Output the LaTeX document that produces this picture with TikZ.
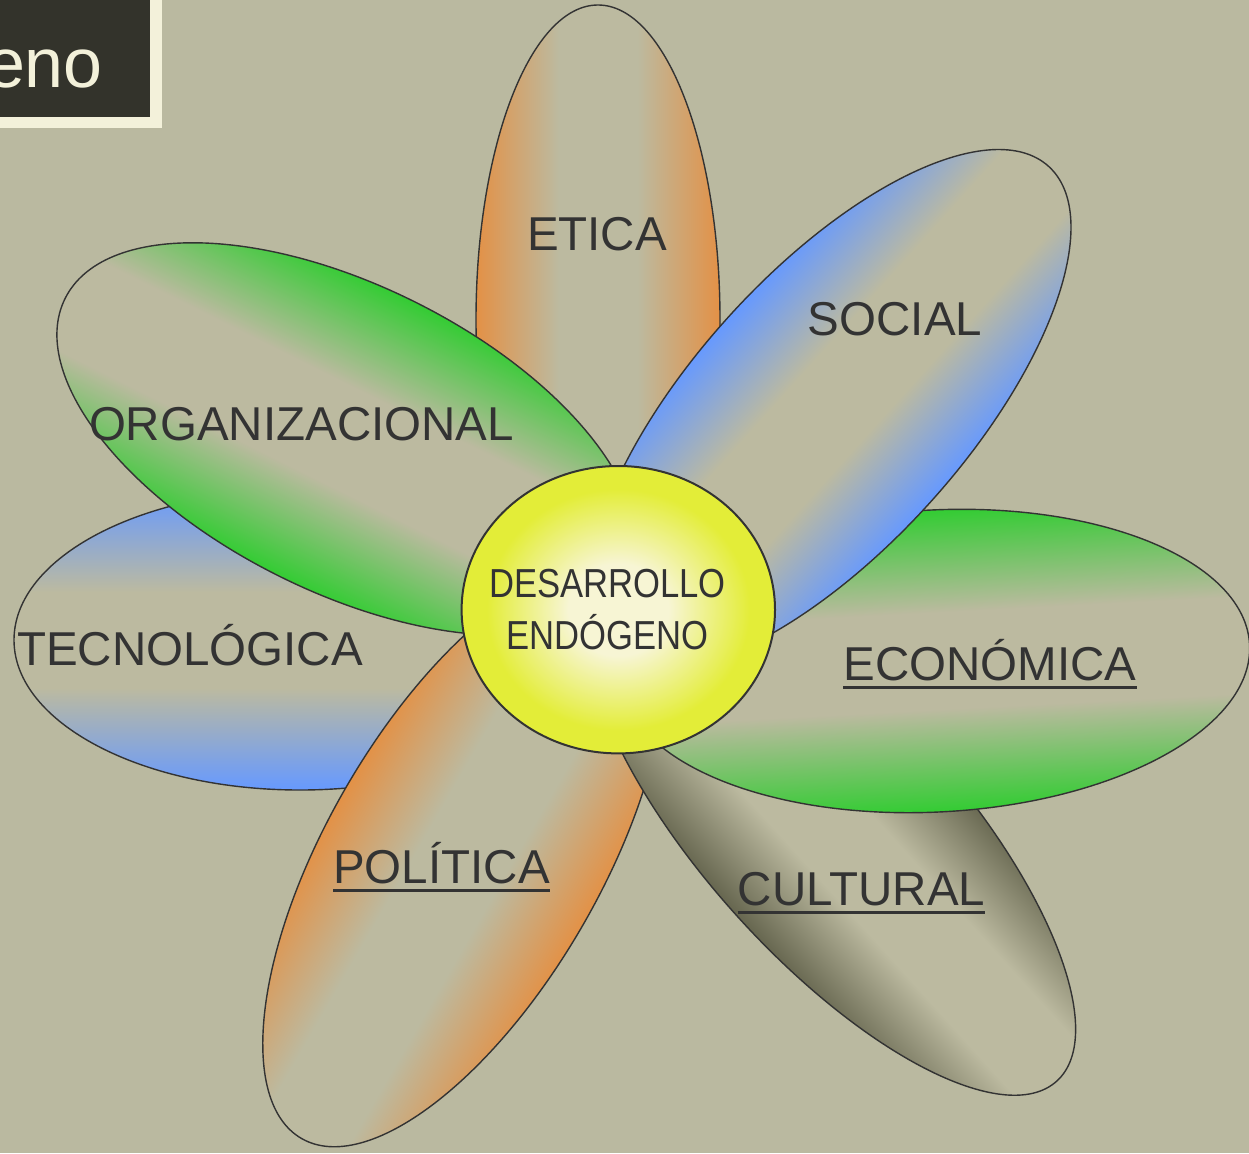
\documentclass[tikz,border=0pt]{standalone}
\usepackage{fontspec}
\setmainfont{Liberation Sans}
\definecolor{bg}{HTML}{BAB9A0}
\definecolor{mid}{HTML}{BCBAA0}
\definecolor{cOrange}{HTML}{E39146}
\definecolor{cBlue}{HTML}{6699FF}
\definecolor{cGreen}{HTML}{33CC33}
\definecolor{cDark}{HTML}{66664F}
\definecolor{ink}{HTML}{333333}
\definecolor{sunc}{HTML}{F7F5D4}
\definecolor{suny}{HTML}{E3ED38}
\definecolor{boxdark}{HTML}{33332B}
\definecolor{boxcream}{HTML}{F3F1DA}
\colorlet{petalc}{cOrange}
\pgfdeclareverticalshading[petalc]{petal}{100bp}{color(0bp)=(petalc); color(25bp)=(petalc); color(42bp)=(mid); color(58bp)=(mid); color(75bp)=(petalc); color(100bp)=(petalc)}
\pgfdeclareradialshading{sun}{\pgfpoint{0bp}{0bp}}{color(0bp)=(sunc); color(8bp)=(sunc); color(21bp)=(suny); color(25bp)=(suny); color(50bp)=(suny)}
\newcommand\drawpetal[6]{%
  \begin{scope}[transform canvas={shift={(#1,#2)},rotate=#3}]
    \colorlet{petalc}{#6}%
    \shadedraw[shading=petal, draw=ink, line width=1.4pt] (0,0) ellipse [x radius=#4pt, y radius=#5pt];
  \end{scope}}
\tikzset{
  lab/.style={text=ink, inner sep=0pt, anchor=base, font=\fontsize{47.5}{57}\selectfont},
  core/.style={text=ink, inner sep=0pt, anchor=base, font=\fontsize{40.5}{48}\selectfont},
  uline/.style={draw=ink, line width=3pt}
}
\begin{document}
\begin{tikzpicture}[x=1pt, y=-1pt]
\useasboundingbox (0,0) rectangle (1249,1153);
\fill[bg] (0,0) rectangle (1249,1153);
% title box
\fill[boxcream] (0,0) rectangle (162,128);
\fill[boxdark] (0,0) rectangle (150,117);
\node[anchor=base east, text=boxcream, inner sep=0pt, font=\fontsize{70}{84}\selectfont] (eno) at (103,88) {eno};
% petals
\drawpetal{598}{320}{90}{315}{122}{cOrange}
\drawpetal{300}{640}{0}{286}{150}{cBlue}
\drawpetal{347}{439}{-26.5}{315}{153}{cGreen}
\drawpetal{464}{857}{60}{325}{137}{cOrange}
\drawpetal{830.5}{830}{-48}{338}{127}{cDark}
\drawpetal{935}{661}{3}{315}{151}{cGreen}
\drawpetal{829}{410}{48}{328}{137}{cBlue}
% centre
\shadedraw[shading=sun, draw=ink, line width=2pt] (618.3,609.7) ellipse [x radius=156.7pt, y radius=143.7pt];
% labels
\node[lab] (etica) at (597,250) {ETICA};
\node[lab] (social) at (895,335) {SOCIAL};
\node[lab] (org) at (301.5,440) {ORGANIZACIONAL};
\node[lab] (tec) at (190,665) {TECNOLÓGICA};
\node[lab] (eco) at (990,680) {ECONÓMICA};
\node[lab] (pol) at (441.5,883) {POLÍTICA};
\node[lab] (cul) at (861.5,905) {CULTURAL};
\draw[uline] ([yshift=-7pt]eco.base west) -- ([yshift=-7pt]eco.base east);
\draw[uline] ([yshift=-7pt]pol.base west) -- ([yshift=-7pt]pol.base east);
\draw[uline] ([yshift=-7pt]cul.base west) -- ([yshift=-7pt]cul.base east);
\node[core] (des) at (607.5,597.3) {\scalebox{0.855}[1]{DESARROLLO}};
\node[core] (endo) at (607.5,649) {\scalebox{0.855}[1]{ENDÓGENO}};
\end{tikzpicture}
\end{document}
